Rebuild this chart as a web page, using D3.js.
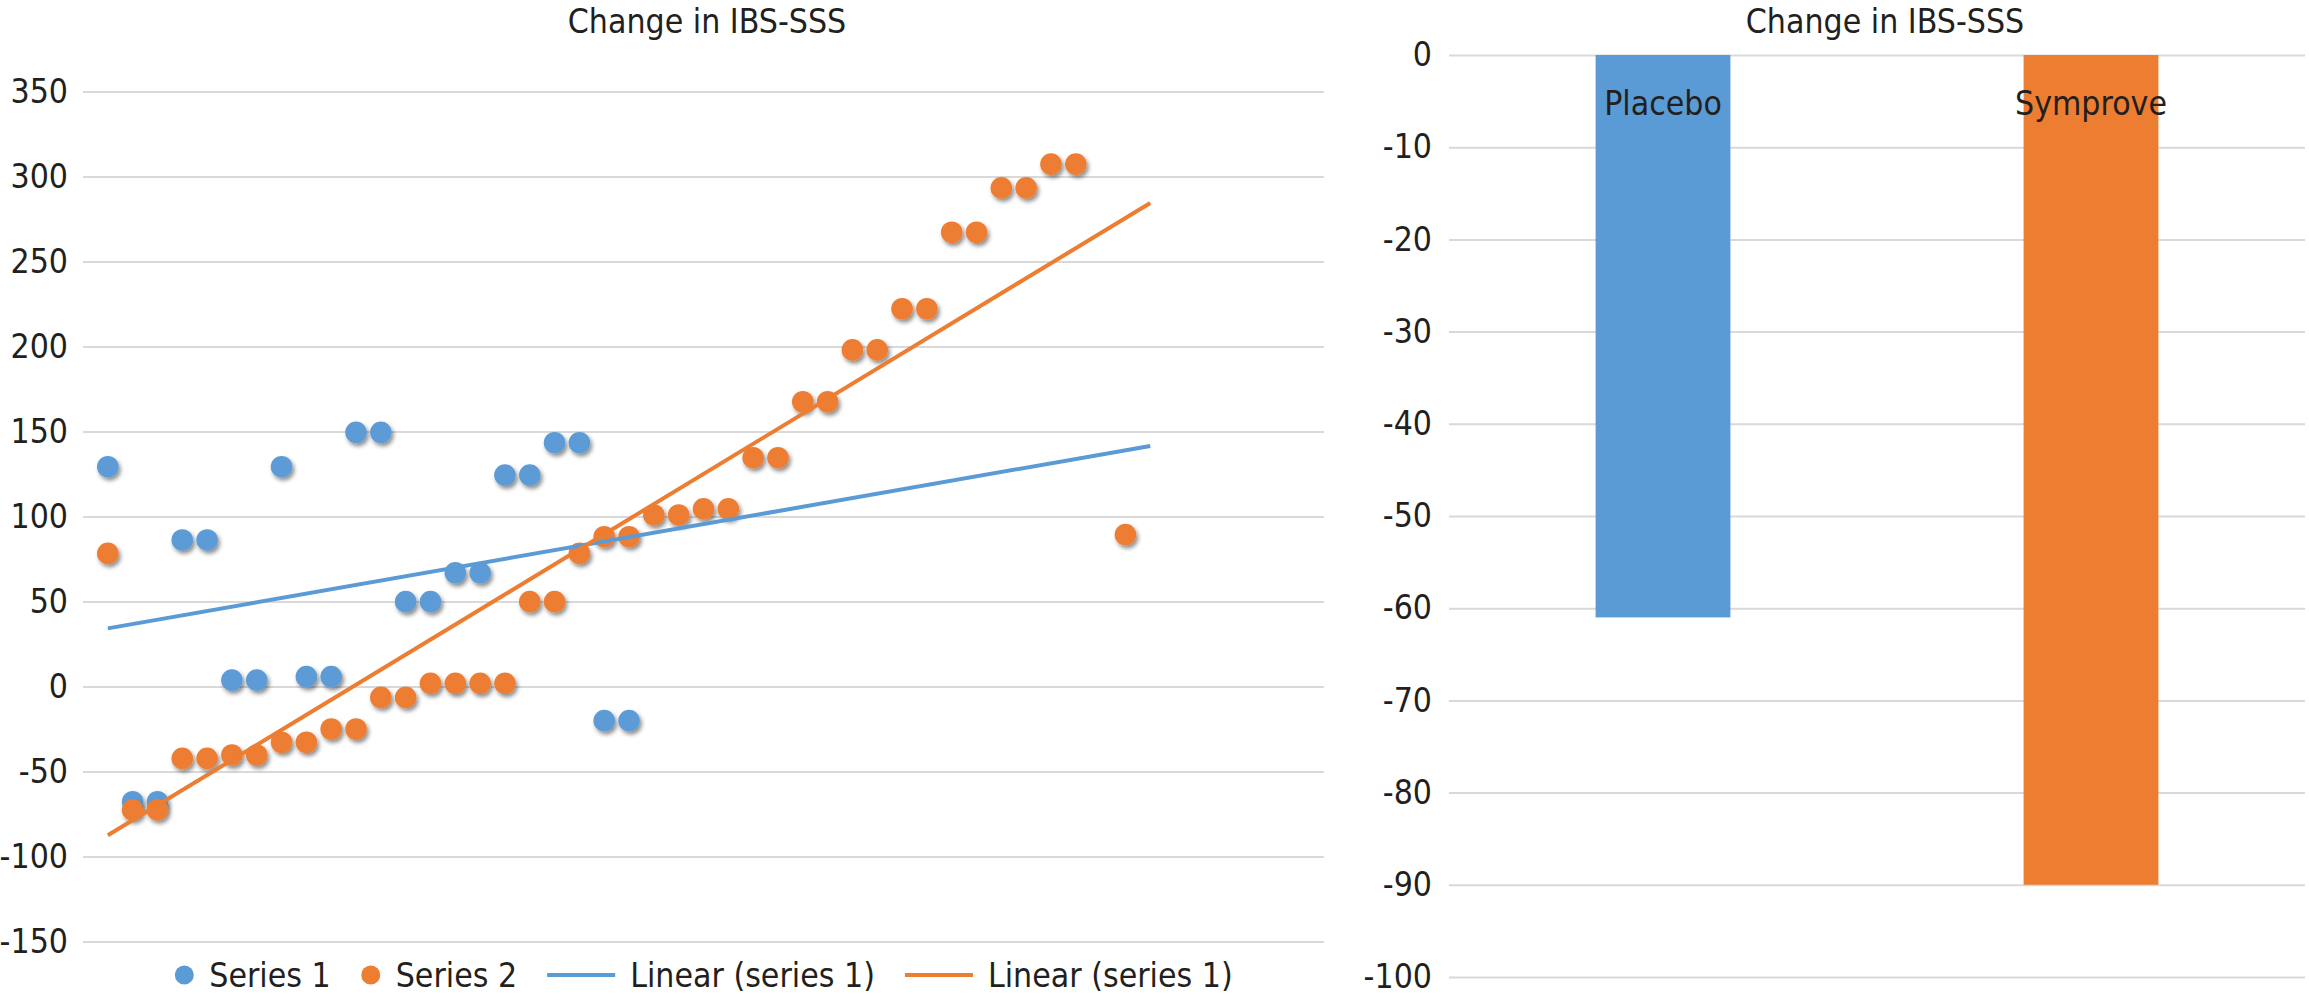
<!DOCTYPE html>
<html>
<head>
<meta charset="utf-8">
<script src="https://cdn.jsdelivr.net/npm/d3@7"></script>
<style>
  body { margin: 0; background: #fff; }
  text { font-family: "DejaVu Sans Condensed", "DejaVu Sans", sans-serif; fill: #231f20; }
</style>
</head>
<body>
<svg id="chart"></svg>
<script>
// ---- data ----
var series1X = [1, 2, 3, 4, 5, 6, 7, 8, 9, 10, 11, 12, 13, 14, 15, 16, 17, 18, 19, 20, 21, 22];
var series1Y = [129.3, -67.8, -67.8, 86.2, 86.2, 3.8, 3.8, 129.3, 5.8, 5.8, 149.5, 149.5,
                49.9, 49.9, 66.9, 66.9, 124.4, 124.4, 143.4, 143.4, -20.1, -20.1];
var series2X = [1, 2, 3, 4, 5, 6, 7, 8, 9, 10, 11, 12, 13, 14, 15, 16, 17, 18, 19, 20,
                21, 22, 23, 24, 25, 26, 27, 28, 29, 30, 31, 32, 33, 34, 35, 36, 37, 38, 39, 40, 42];
var series2Y = [78.3, -72.6, -72.6, -42.3, -42.3, -40.3, -40.3, -32.8, -32.8, -25, -25, -6.4,
                -6.4, 1.9, 1.9, 1.9, 1.9, 49.9, 49.9, 78.3, 88.1, 88.1, 100.9, 100.9, 104.5, 104.5,
                134.6, 134.6, 167.5, 167.5, 198, 198, 222.2, 222.2, 267.2, 267.2, 293.3, 293.3,
                307.3, 307.3, 89.4];
var trendRange = [1, 43];
var scatterXDomain = [0, 50];
var scatterYDomain = [-150, 350];
var legendLabels = ["Series 1", "Series 2", "Linear (series 1)", "Linear (series 1)"];
var chartTitle = "Change in IBS-SSS";

var barCategories = ["Placebo", "Symprove"];
var barValues = [-61, -90];
var barYDomain = [-100, 0];

var blue = "#5b9bd5", orange = "#ed7d31", grid = "#d9d9d9";
var fontSize = "33.5px";

var width = 2309, height = 1007;
var svg = d3.select("#chart").attr("width", width).attr("height", height);

// shadow for the scatter markers
svg.append("defs").append("filter")
    .attr("id", "shadow")
    .attr("x", "-50%").attr("y", "-50%").attr("width", "200%").attr("height", "200%")
  .append("feDropShadow")
    .attr("dx", 2).attr("dy", 3).attr("stdDeviation", 2)
    .attr("flood-color", "#000").attr("flood-opacity", 0.45);

// least squares fit
function linearFit(xs, ys) {
    var mx = d3.mean(xs), my = d3.mean(ys);
    var sxy = d3.sum(xs, function(x, i) { return (x - mx) * (ys[i] - my); });
    var sxx = d3.sum(xs, function(x) { return (x - mx) * (x - mx); });
    var slope = sxy / sxx;
    return { slope: slope, intercept: my - slope * mx };
}

// ================= scatter (left) =================
var sLeft = 83, sRight = 1324, sTop = 91.5, sBottom = 941.5;

var x = d3.scaleLinear().domain(scatterXDomain).range([sLeft, sRight]);
var y = d3.scaleLinear().domain(scatterYDomain).range([sBottom, sTop]);

var yAxis = svg.append("g")
    .attr("transform", "translate(" + sLeft + ",0)")
    .call(d3.axisLeft(y).ticks(10).tickSize(-(sRight - sLeft)).tickPadding(15)
        .tickFormat(function(d) { return String(d); }));
yAxis.select(".domain").remove();
yAxis.selectAll("line").attr("stroke", grid).attr("stroke-width", 2);
yAxis.selectAll("text").style("font-size", fontSize).attr("fill", "#231f20");

svg.append("text")
    .attr("x", 707).attr("y", 33)
    .attr("text-anchor", "middle")
    .style("font-size", fontSize)
    .text(chartTitle);

var series = [
    { xs: series1X, ys: series1Y, color: blue },
    { xs: series2X, ys: series2Y, color: orange }
];

// markers
series.forEach(function(s) {
    svg.append("g").attr("filter", "url(#shadow)")
      .selectAll("circle")
      .data(s.xs.map(function(v, i) { return [v, s.ys[i]]; }))
      .enter().append("circle")
        .attr("cx", function(d) { return x(d[0]); })
        .attr("cy", function(d) { return y(d[1]); })
        .attr("r", 10.8)
        .attr("fill", s.color);
});

// trend lines, drawn over the markers
series.forEach(function(s) {
    var fit = linearFit(s.xs, s.ys);
    svg.append("path")
        .datum(trendRange)
        .attr("fill", "none")
        .attr("stroke", s.color)
        .attr("stroke-width", 4)
        .attr("d", d3.line()
            .x(function(d) { return x(d); })
            .y(function(d) { return y(fit.intercept + fit.slope * d); }));
});

// legend
var legend = svg.append("g");
var legendKinds = ["dot", "dot", "line", "line"];
var legendColors = [blue, orange, blue, orange];
var lx = 0;
legendLabels.forEach(function(label, i) {
    var item = legend.append("g").attr("transform", "translate(" + lx + ",0)");
    var symW;
    if (legendKinds[i] == "dot") {
        item.append("circle").attr("cx", 10).attr("cy", 0).attr("r", 9.5).attr("fill", legendColors[i]);
        symW = 20;
    } else {
        item.append("line").attr("x1", 0).attr("x2", 68).attr("y1", 0).attr("y2", 0)
            .attr("stroke", legendColors[i]).attr("stroke-width", 4);
        symW = 68;
    }
    var t = item.append("text")
        .attr("x", symW + 15).attr("y", 0).attr("dy", "0.35em")
        .style("font-size", fontSize)
        .text(label);
    lx += symW + 15 + t.node().getComputedTextLength() + 30;
});
lx -= 30;
legend.attr("transform", "translate(" + ((sLeft + sRight) / 2 - lx / 2) + ",975)");

// ================= bars (right) =================
var bLeft = 1449, bRight = 2305, bTop = 55, bBottom = 977;

var yb = d3.scaleLinear().domain(barYDomain).range([bBottom, bTop]);
var xb = d3.scaleBand().domain(barCategories).range([bLeft, bRight])
    .paddingInner(0.685).paddingOuter(0.3425);

var ybAxis = svg.append("g")
    .attr("transform", "translate(" + bLeft + ",0)")
    .call(d3.axisLeft(yb).ticks(10).tickSize(-(bRight - bLeft)).tickPadding(17)
        .tickFormat(function(d) { return String(d); }));
ybAxis.select(".domain").remove();
ybAxis.selectAll("line").attr("stroke", grid).attr("stroke-width", 2);
ybAxis.selectAll("text").style("font-size", fontSize).attr("fill", "#231f20");

svg.append("text")
    .attr("x", 1885).attr("y", 33)
    .attr("text-anchor", "middle")
    .style("font-size", fontSize)
    .text(chartTitle);

var barColors = [blue, orange];
svg.selectAll(".bar")
    .data(barCategories)
    .enter().append("rect")
    .attr("class", "bar")
    .attr("x", function(d) { return xb(d); })
    .attr("y", yb(0))
    .attr("width", xb.bandwidth())
    .attr("height", function(d, i) { return yb(barValues[i]) - yb(0); })
    .attr("fill", function(d, i) { return barColors[i]; });

svg.selectAll(".barLabel")
    .data(barCategories)
    .enter().append("text")
    .attr("class", "barLabel")
    .attr("x", function(d) { return xb(d) + xb.bandwidth() / 2; })
    .attr("y", yb(0) + 60)
    .attr("text-anchor", "middle")
    .style("font-size", fontSize)
    .text(function(d) { return d; });
</script>
</body>
</html>
